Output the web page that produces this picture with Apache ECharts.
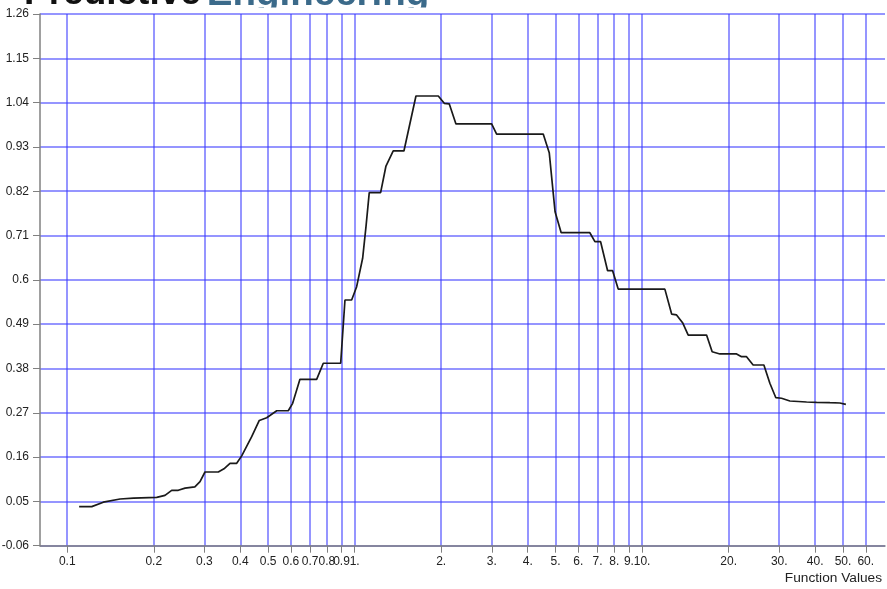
<!DOCTYPE html>
<html><head><meta charset="utf-8">
<script src="https://cdn.jsdelivr.net/npm/echarts@6/dist/echarts.min.js"></script>
<style>html,body{margin:0;padding:0;background:#fff}#c{width:887px;height:589px}</style>
</head><body><div id="c"></div>
<script>
// ---- data ----
const xValues = [0.110, 0.1217, 0.1335, 0.1527, 0.170, 0.2048, 0.2188, 0.2309, 0.2434, 0.257, 0.278, 0.2897, 0.3015, 0.3354, 0.351, 0.3684, 0.3887, 0.4046, 0.4383, 0.4658, 0.4943, 0.5355, 0.5875, 0.6085, 0.6451, 0.7375, 0.7777, 0.894, 0.9253, 0.976, 1.016, 1.066, 1.095, 1.124, 1.231, 1.285, 1.362, 1.484, 1.634, 1.954, 2.050, 2.133, 2.251, 2.996, 3.118, 4.529, 4.753, 4.98, 5.23, 6.58, 6.853, 7.172, 7.586, 7.896, 8.258, 12.0, 12.67, 13.18, 13.83, 14.47, 16.76, 17.53, 18.65, 21.32, 22.18, 23.09, 24.34, 26.53, 27.83, 29.20, 30.56, 32.67, 37.34, 40.46, 45.0, 48.75, 51.17];
const yValues = [0.037, 0.037, 0.048, 0.056, 0.058, 0.060, 0.065, 0.0775, 0.0775, 0.083, 0.086, 0.099, 0.123, 0.123, 0.131, 0.1445, 0.1445, 0.163, 0.2106, 0.251, 0.2578, 0.275, 0.275, 0.2935, 0.353, 0.353, 0.393, 0.393, 0.550, 0.550, 0.583, 0.6535, 0.732, 0.8164, 0.8164, 0.8826, 0.920, 0.920, 1.0564, 1.0564, 1.0383, 1.037, 0.987, 0.987, 0.962, 0.962, 0.9157, 0.769, 0.717, 0.717, 0.6947, 0.6947, 0.6227, 0.6227, 0.577, 0.577, 0.515, 0.513, 0.4936, 0.463, 0.463, 0.4216, 0.416, 0.416, 0.4092, 0.4092, 0.3886, 0.3886, 0.3432, 0.3074, 0.306, 0.2992, 0.2968, 0.296, 0.295, 0.2943, 0.291];
const xTickValues = [0.1, 0.2, 0.3, 0.4, 0.5, 0.6, 0.7, 0.8, 0.9, 1, 2, 3, 4, 5, 6, 7, 8, 9, 10, 20, 30, 40, 50, 60];
const xTickLabels = ['0.1', '0.2', '0.3', '0.4', '0.5', '0.6', '0.7', '0.8', '0.9', '1.', '2.', '3.', '4.', '5.', '6.', '7.', '8.', '9.', '10.', '20.', '30.', '40.', '50.', '60.'];
const yTickValues = [-0.06, 0.05, 0.16, 0.27, 0.38, 0.49, 0.6, 0.71, 0.82, 0.93, 1.04, 1.15, 1.26];
const yTickLabels = ['-0.06', '0.05', '0.16', '0.27', '0.38', '0.49', '0.6', '0.71', '0.82', '0.93', '1.04', '1.15', '1.26'];
const xAxisTitle = 'Function Values';
const brandWords = ['Predictive', 'Engineering'];

const FONT = "'Liberation Sans', Arial, Helvetica, sans-serif";
const seriesData = xValues.map((x, i) => [x, yValues[i]]);
const gridColor = 'rgba(60,60,255,0.72)';
const axisColor = '#808080';

const chart = echarts.init(document.getElementById('c'));
chart.setOption({
  animation: false,
  backgroundColor: '#fff',
  grid: { left: 40, right: 2, top: 14, bottom: 43.3, containLabel: false, outerBoundsMode: 'none' },
  xAxis: {
    type: 'log', logBase: 10, min: 0.0804, max: 70,
    name: xAxisTitle, nameLocation: 'end', nameGap: -3,
    nameTextStyle: { fontFamily: FONT, fontSize: 13.7, color: '#222', align: 'right', verticalAlign: 'top', padding: [26, 0, 0, 0] },
    axisLine: { show: true, onZero: false, lineStyle: { color: axisColor, width: 1.5 } },
    axisTick: { show: true, length: 7, customValues: xTickValues, lineStyle: { color: axisColor } },
    axisLabel: { customValues: xTickValues, margin: 10, hideOverlap: false, fontFamily: FONT, fontSize: 12, color: '#222',
      formatter: v => { let bi = 0, bd = Infinity; xTickValues.forEach((t, i) => { const d = Math.abs(Math.log10(t) - Math.log10(v)); if (d < bd) { bd = d; bi = i; } }); return xTickLabels[bi]; } },
    splitLine: { show: true, customValues: xTickValues, lineStyle: { color: gridColor, width: 1.5 } },
    minorTick: { show: false }, minorSplitLine: { show: false }
  },
  yAxis: {
    type: 'value', min: -0.06, max: 1.26,
    axisLine: { show: true, onZero: false, lineStyle: { color: axisColor, width: 1.5 } },
    axisTick: { show: true, length: 7, customValues: yTickValues, lineStyle: { color: axisColor } },
    axisLabel: { customValues: yTickValues, margin: 11, fontFamily: FONT, fontSize: 12, color: '#222',
      formatter: v => { let bi = 0, bd = Infinity; yTickValues.forEach((t, i) => { const d = Math.abs(t - v); if (d < bd) { bd = d; bi = i; } }); return yTickLabels[bi]; } },
    splitLine: { show: true, customValues: yTickValues, lineStyle: { color: gridColor, width: 1.5 } }
  },
  series: [{
    type: 'line', data: seriesData, showSymbol: false, symbol: 'none',
    lineStyle: { color: '#1a1a1a', width: 1.7 }, z: 5
  }]
});

// Brand heading, clipped at the top of the page as in the reference
const zr = chart.getZr();
const brand = new echarts.graphic.Group();
brand.setClipPath(new echarts.graphic.Rect({ shape: { x: 0, y: 0, width: 887, height: 7.5 } }));
const t1 = new echarts.graphic.Text({ style: { text: brandWords[0], x: 24, y: -6, fill: '#111', font: "bold 37px " + FONT, verticalAlign: 'middle', align: 'left' } });
const w1 = t1.getBoundingRect().width;
const t2 = new echarts.graphic.Text({ style: { text: brandWords[1], x: 24 + w1 + 6, y: -6, fill: '#3b6a8a', font: "bold 38.5px " + FONT, verticalAlign: 'middle', align: 'left' } });
brand.add(t1); brand.add(t2);
zr.add(brand);
</script></body></html>
